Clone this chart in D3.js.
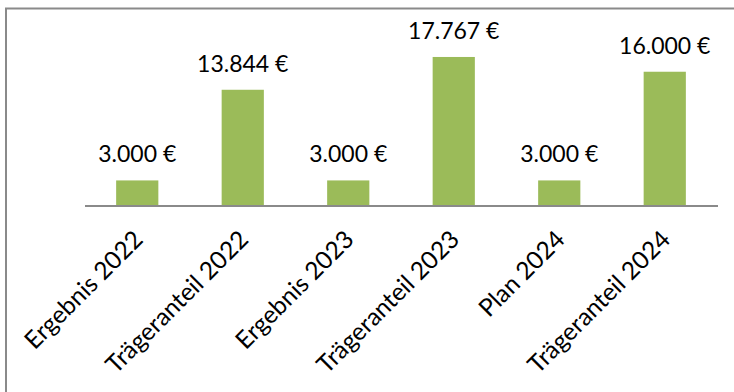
<!DOCTYPE html>
<html>
<head>
<meta charset="utf-8">
<script src="https://cdn.jsdelivr.net/npm/d3@7"></script>
<style>
  html, body { margin: 0; padding: 0; background: #fff; }
  svg { display: block; }
  text { font-family: Lato, "Open Sans", sans-serif; fill: #000; }
</style>
</head>
<body>
<svg id="chart" width="734" height="392"></svg>
<script>
const categories = ["Ergebnis 2022", "Trägeranteil 2022", "Ergebnis 2023", "Trägeranteil 2023", "Plan 2024", "Trägeranteil 2024"];
const values = [3000, 13844, 3000, 17767, 3000, 16000];
const valueLabels = ["3.000 €", "13.844 €", "3.000 €", "17.767 €", "3.000 €", "16.000 €"];

const svg = d3.select("#chart");

// outer frame (only left/top visible in crop)
svg.append("rect")
  .attr("x", 6).attr("y", 8.5)
  .attr("width", 760).attr("height", 420)
  .attr("fill", "none")
  .attr("stroke", "#8a8a8a")
  .attr("stroke-width", 2);

const x = d3.scaleBand().domain(categories).range([84.5, 717.5]).padding(0);
const y = d3.scaleLinear().domain([0, 20000]).range([205.5, 38.3]);
const barW = x.bandwidth() * 0.4;

svg.append("g").selectAll("rect")
  .data(categories)
  .join("rect")
  .attr("x", (d) => x(d) + x.bandwidth() / 2 - barW / 2)
  .attr("y", (d, i) => y(values[i]))
  .attr("width", barW)
  .attr("height", (d, i) => y(0) - y(values[i]))
  .attr("fill", "#9BBB59");

// baseline axis
const axis = d3.axisBottom(x).tickSize(0).tickFormat("");
const gAxis = svg.append("g").attr("transform", `translate(0,${y(0)})`).call(axis);
gAxis.select(".domain").attr("stroke", "#8a8a8a").attr("stroke-width", 2);

// value labels
svg.append("g").selectAll("text")
  .data(categories)
  .join("text")
  .attr("x", (d) => x(d) + x.bandwidth() / 2)
  .attr("y", (d, i) => y(values[i]) - 18)
  .attr("text-anchor", "middle")
  .style("font-size", "23px")
  .text((d, i) => valueLabels[i]);

// category labels rotated
svg.append("g").selectAll("text")
  .data(categories)
  .join("text")
  .attr("transform", (d) => `translate(${x(d) + x.bandwidth() / 2 + 7},241) rotate(-45)`)
  .attr("text-anchor", "end")
  .style("font-size", "24.5px")
  .text((d) => d);
</script>
</body>
</html>
